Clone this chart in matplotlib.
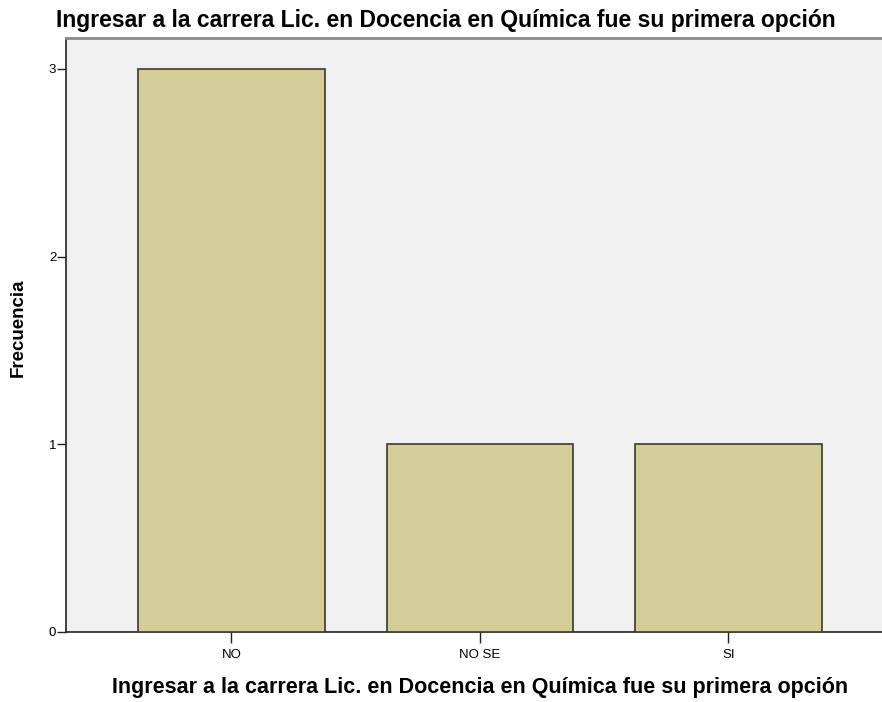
import numpy as np
import matplotlib
matplotlib.use('Agg')
import matplotlib.pyplot as plt

# ----------------------------------
# Data
# ----------------------------------
categorias = ['NO', 'NO SE', 'SI']
frecuencias = [3, 1, 1]
yticks = [0, 1, 2, 3]

titulo = 'Ingresar a la carrera Lic. en Docencia en Química fue su primera opción'

plt.rcParams['font.family'] = ['Liberation Sans', 'DejaVu Sans']

fig = plt.figure(figsize=(8.82, 7.02), dpi=100)
# axes box in pixels: left 66, right 882, top 38, bottom 632
ax = fig.add_axes([66 / 882, 1 - 632 / 702, (882 - 66) / 882, (632 - 38) / 702])
ax.set_facecolor('#f0f0f0')

x = np.arange(len(categorias))
ax.bar(x, frecuencias, width=0.75, color='#d3ce97', edgecolor='#3a3a2a', linewidth=1.2, zorder=3)

ax.set_xlim(-0.666, 2.618)
ax.set_ylim(0, 3.165)
ax.set_xticks(x)
ax.set_xticklabels(categorias, fontsize=9.5)
ax.set_yticks(yticks)
ax.set_yticklabels([str(v) for v in yticks], fontsize=9.5)
ax.tick_params(axis='x', length=8, width=1, color='#222222', pad=4)
ax.tick_params(axis='y', length=6.5, width=1, color='#222222', pad=0.5)

for side in ['left', 'bottom']:
    ax.spines[side].set_color('#222222')
    ax.spines[side].set_linewidth(1.2)
ax.spines['top'].set_color('#8a8a8a')
ax.spines['top'].set_linewidth(2)
ax.spines['right'].set_visible(False)

# ejes
fig.text(18 / 882, 1 - 328 / 702, 'Frecuencia', rotation=90, ha='center', va='center',
         fontsize=13.5, fontweight='bold')
fig.text(480 / 882, 1 - 693 / 702, titulo, ha='center', va='baseline',
         fontsize=15.5, fontweight='bold')
fig.text(446 / 882, 1 - 27 / 702, titulo, ha='center', va='baseline',
         fontsize=16.5, fontweight='bold')

fig.savefig('out.png', dpi=100)
